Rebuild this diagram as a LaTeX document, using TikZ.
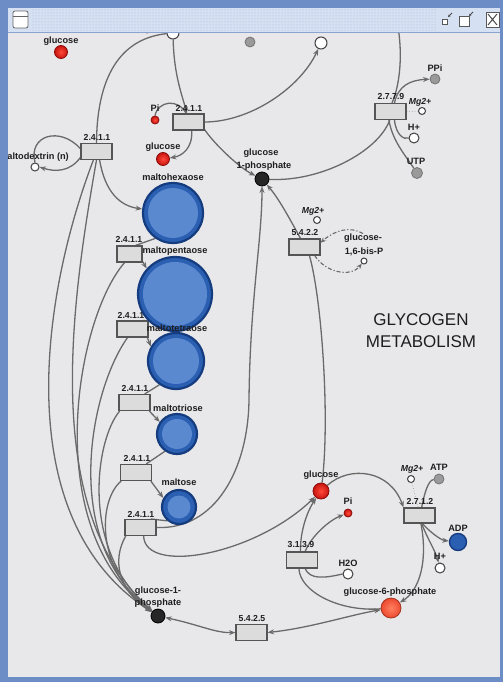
\documentclass[tikz,border=0pt]{standalone}
\usepackage{fontspec}
\setmainfont{Liberation Sans}
\usetikzlibrary{arrows.meta,patterns}
\pgfdeclarelayer{back}\pgfdeclarelayer{edges}\pgfdeclarelayer{front}
\pgfsetlayers{back,edges,main,front}
\definecolor{framec}{HTML}{6C8DC6}
\definecolor{titlec}{HTML}{D5E0F2}
\definecolor{dotc}{HTML}{9FB6DC}
\definecolor{bgc}{HTML}{E8E8EA}
\definecolor{linec}{HTML}{6A6A6A}
\definecolor{boxfill}{HTML}{DCDCDC}
\definecolor{boxdraw}{HTML}{555555}
\definecolor{redin}{HTML}{FF4A3A}
\definecolor{redout}{HTML}{C81410}
\definecolor{redline}{HTML}{8A0C08}
\definecolor{bdark}{HTML}{163C80}
\definecolor{bmid}{HTML}{2A5FB2}
\definecolor{blight}{HTML}{5A89D0}
\definecolor{graycirc}{HTML}{9A9A9A}
\definecolor{orin}{HTML}{FF8060}
\definecolor{orout}{HTML}{EC4A30}
\definecolor{txt}{HTML}{1E1E1E}
\begin{document}
\begin{tikzpicture}[x=1pt,y=-1pt,
 lbl/.style={font=\bfseries\fontsize{9.2}{10}\selectfont, text=txt, inner sep=0pt},
 elbl/.style={font=\bfseries\fontsize{8.7}{10}\selectfont, text=txt, inner sep=0pt},
 ilbl/.style={font=\bfseries\itshape\fontsize{8.7}{10}\selectfont, text=txt, inner sep=0pt},
 enz/.style={draw=boxdraw, fill=boxfill, line width=1.1pt, minimum width=31pt, minimum height=16pt, inner sep=0pt},
 redc/.style={circle, inner sep=0pt, draw=redline, line width=0.8pt, shading=radial, inner color=redin, outer color=redout},
 orc/.style={circle, inner sep=0pt, draw=orout!70!black, line width=0.8pt, shading=radial, inner color=orin, outer color=orout},
 opnc/.style={circle, inner sep=0pt, draw=black!75, fill=white, line width=1pt},
 grayc/.style={circle, inner sep=0pt, draw=black!55, fill=graycirc, line width=0.8pt},
 blkc/.style={circle, inner sep=0pt, draw=black, fill=black!85, line width=0.8pt, minimum size=14pt},
 malto/.style={circle, inner sep=0pt, draw=bdark, fill=bmid, line width=2.2pt},
 con/.style={draw=linec, line width=1.3pt},
 arr/.style={con, -{Stealth[length=6.5pt,width=5pt]}},
 arrb/.style={con, {Stealth[length=6.5pt,width=5pt]}-{Stealth[length=6.5pt,width=5pt]}},
 dasharr/.style={draw=linec, line width=1.1pt, dash pattern=on 4pt off 2pt on 1.2pt off 2pt, -{Stealth[length=5.5pt,width=4.5pt]}},
 dotl/.style={draw=black!40, line width=0.7pt, dotted}
]
\useasboundingbox (0,0) rectangle (503,682);
\begin{pgfonlayer}{back}
\fill[bgc] (0,0) rectangle (503,682);
\end{pgfonlayer}

% ---------- nodes ----------
\node[redc, minimum size=13pt] (glcTL) at (61,52) {};
\node[lbl] (glcTLl) at (61,41) {glucose};
\node[opnc, minimum size=12pt] (topO) at (173,33) {};
\node[redc, minimum size=10pt] (topR) at (147,28) {};
\node[grayc, minimum size=10pt] (udp) at (250,42) {};
\node[opnc, minimum size=12pt] (udpg) at (321,43) {};

\node[enz] (e1) at (188.5,122) {};
\node[elbl] (e1l) at (189,108) {2.4.1.1};
\node[redc, minimum size=8pt] (pi1) at (155,120) {};
\node[lbl] (pi1l) at (155,108) {Pi};
\node[redc, minimum size=13pt] (glc1) at (163,159) {};
\node[lbl] (glc1l) at (163,147) {glucose};
\node[blkc] (g1p) at (262,179) {};
\node[lbl] (g1pl1) at (261,153) {glucose};
\node[lbl] (g1pl2) at (264,166) {1-phosphate};

\node[enz] (e0) at (96.5,151.5) {};
\node[elbl] (e0l) at (97,137) {2.4.1.1};
\node[opnc, minimum size=8pt] (md) at (35,167) {};
\node[lbl] (mdl) at (34,157) {maltodextrin (n)};

\node[enz, minimum width=25pt] (e2) at (129.5,254) {};
\node[elbl] (e2l) at (129,239) {2.4.1.1};
\node[enz] (e3) at (132.5,329) {};
\node[elbl] (e3l) at (131,315) {2.4.1.1};
\node[enz] (e4) at (134.5,402.5) {};
\node[elbl] (e4l) at (135,388) {2.4.1.1};
\node[enz] (e5) at (136,472.5) {};
\node[elbl] (e5l) at (137,458) {2.4.1.1};
\node[enz] (e6) at (140.5,527.5) {};
\node[elbl] (e6l) at (141,514) {2.4.1.1};

\node[malto, minimum size=60pt] (hexa) at (173,213) {};
\fill[blight] (hexa.center) circle (25pt);
\node[lbl] (hexal) at (173,177) {maltohexaose};
\node[malto, minimum size=74pt] (penta) at (175,294) {};
\fill[blight] (penta.center) circle (32pt);
\node[lbl] (pental) at (175,251) {maltopentaose};
\node[malto, minimum size=56pt] (tetra) at (176,361) {};
\fill[blight] (tetra.center) circle (23pt);
\node[lbl] (tetral) at (177,328) {maltotetraose};
\node[malto, minimum size=40pt] (tri) at (177,434) {};
\fill[blight] (tri.center) circle (15pt);
\node[lbl] (tril) at (178,408) {maltotriose};
\node[malto, minimum size=34pt] (malt) at (179,507) {};
\fill[blight] (malt.center) circle (11.5pt);
\node[lbl] (maltl) at (179,482) {maltose};

\node[blkc] (g1pB) at (158,616) {};
\node[lbl] (g1pBl1) at (158,591) {glucose-1-};
\node[lbl] (g1pBl2) at (158,603) {phosphate};
\node[enz] (e7) at (251.5,632.5) {};
\node[elbl] (e7l) at (252,618) {5.4.2.5};

\node[enz] (e8) at (304.5,247) {};
\node[elbl] (e8l) at (305,233) {5.4.2.2};
\node[opnc, minimum size=7pt] (mg1) at (317,220) {};
\node[ilbl] (mg1l) at (313,211) {Mg2+};
\node[opnc, minimum size=6pt] (g16) at (364,261) {};
\node[lbl] (g16l1) at (363,238) {glucose-};
\node[lbl] (g16l2) at (364,252) {1,6-bis-P};

\node[enz] (e9) at (390.5,111.5) {};
\node[elbl] (e9l) at (391,97) {2.7.7.9};
\node[grayc, minimum size=10pt] (ppi) at (435,79) {};
\node[lbl] (ppil) at (435,68) {PPi};
\node[opnc, minimum size=7pt] (mg2) at (422,111) {};
\node[ilbl] (mg2l) at (420,102) {Mg2+};
\node[opnc, minimum size=10pt] (hp1) at (414,138) {};
\node[lbl] (hp1l) at (414,127) {H+};
\node[grayc, minimum size=11pt] (utp) at (417,173) {};
\node[lbl] (utpl) at (416,161) {UTP};

\node[font=\fontsize{17}{22}\selectfont, text=txt, align=center, inner sep=0pt] (ttl) at (421,331) {GLYCOGEN\\METABOLISM};

\node[redc, minimum size=16pt] (glcR) at (321,491) {};
\node[lbl] (glcRl) at (321,475) {glucose};
\node[redc, minimum size=8pt] (pi2) at (348,513) {};
\node[lbl] (pi2l) at (348,501) {Pi};
\node[enz] (e10) at (302,560) {};
\node[elbl] (e10l) at (301,545) {3.1.3.9};
\node[opnc, minimum size=10pt] (h2o) at (348,574) {};
\node[lbl] (h2ol) at (348,563) {H2O};
\node[orc, minimum size=20pt] (g6p) at (391,608) {};
\node[lbl] (g6pl) at (390,592) {glucose-6-phosphate};
\node[enz, minimum height=15pt] (e11) at (419.5,515.5) {};
\node[elbl] (e11l) at (420,501) {2.7.1.2};
\node[opnc, minimum size=7pt] (mg3) at (411,479) {};
\node[ilbl] (mg3l) at (412,469) {Mg2+};
\node[grayc, minimum size=10pt] (atp) at (439,479) {};
\node[lbl] (atpl) at (439,467) {ATP};
\node[circle, inner sep=0pt, minimum size=17pt, draw=bdark, fill=bmid, line width=1.4pt] (adp) at (458,542) {};
\node[lbl] (adpl) at (458,528) {ADP};
\node[opnc, minimum size=10pt] (hp2) at (440,568) {};
\node[lbl] (hp2l) at (440,556) {H+};

\coordinate (offtop) at (397,22);

% ---------- connectors ----------
\begin{pgfonlayer}{edges}
\draw[arr] (topO) .. controls (174,75) and (182,95) .. (e1.100);
\draw[con] (pi1.north) .. controls (158,101) and (178,98) .. (e1.105);
\draw[arr] (e1.-70) .. controls (193,148) and (182,156) .. (glc1);
\draw[arr] (e1.-25) .. controls (215,145) and (240,168) .. (g1p);
\draw[arr] (e1.east) .. controls (250,122) and (300,88) .. (udpg);
\draw[con] (topO) .. controls (125,38) and (97,70) .. (e0.north);
\draw[con] (e0.170) .. controls (60,126) and (28,135) .. (md.north);
\draw[arr] (e0.-160) .. controls (70,172) and (55,172) .. (md.east);
\draw[arr] (e0.-70) .. controls (105,192) and (120,206) .. (hexa);
\draw[con] (hexa.-125) -- (e2.55);
\draw[arr] (e2.-30) -- (penta.138);
\draw[con] (penta.225) -- (e3.40);
\draw[arr] (e3.-30) -- (tetra.150);
\draw[con] (tetra.235) -- (e4.40);
\draw[arr] (e4.-30) -- (tri.145);
\draw[con] (tri.235) -- (e5.40);
\draw[arr] (e5.-30) -- (malt.150);
\draw[con] (malt.230) -- (e6.40);
% long line to upper glucose-1-phosphate
\draw[arr] (e6.east) .. controls (215,530) and (248,470) .. (249,400) .. controls (250,300) and (262,240) .. (g1p);
\draw[arr] (e6.-70) .. controls (145,575) and (255,555) .. (glcR);
% converging lines to lower glucose-1-phosphate
\draw[arr] (e0.-110) .. controls (40,300) and (10,520) .. (g1pB);
\draw[arr] (e0.-90) .. controls (72,300) and (40,510) .. (g1pB);
\draw[arr] (e2.-120) .. controls (75,320) and (40,530) .. (g1pB);
\draw[arr] (e3.-120) .. controls (90,390) and (60,540) .. (g1pB);
\draw[arr] (e4.-150) .. controls (95,440) and (80,550) .. (g1pB);
\draw[arr] (e5.-150) .. controls (98,500) and (95,570) .. (g1pB);
\draw[arr] (e6.-150) .. controls (112,560) and (118,590) .. (g1pB);
\draw[arrb] (g1pB) .. controls (200,625) and (215,633) .. (e7.west);
\draw[arrb] (e7.east) .. controls (310,628) and (350,615) .. (g6p);
% 2.7.7.9
\draw[con] (g1p) .. controls (320,182) and (378,152) .. (e9.-95);
\draw[con] (e9.80) .. controls (402,80) and (402,45) .. (offtop);
\draw[arr] (e9.65) .. controls (398,86) and (410,80) .. (ppi);
\draw[dotl] (e9.east) -- (mg2);
\draw[con] (e9.-65) .. controls (396,135) and (404,140) .. (hp1.west);
\draw[con] (e9.-100) .. controls (392,140) and (405,155) .. (utp);
% 5.4.2.2
\draw[arr] (e8.115) .. controls (293,225) and (280,200) .. (g1p);
\draw[dasharr] (g16l1.north) .. controls (350,226) and (335,230) .. (e8.15);
\draw[dasharr] (e8.-40) .. controls (325,272) and (350,278) .. (g16);
\draw[con] (e8.-60) .. controls (322,300) and (330,420) .. (glcR);
% right lower part
\draw[arr] (glcR) .. controls (350,465) and (390,470) .. (e11.north west);
\draw[dotl] (mg3) -- (e11.100);
\draw[con] (atp) .. controls (428,480) and (424,495) .. (e11.75);
\draw[arr] (e11.-70) .. controls (428,530) and (440,540) .. (adp);
\draw[arr] (e11.-75) .. controls (428,540) and (435,550) .. (hp2);
\draw[arr] (e11.-80) .. controls (428,560) and (420,590) .. (g6p);
\draw[arr] (e10.100) .. controls (300,530) and (308,510) .. (glcR);
\draw[arr] (e10.70) .. controls (312,535) and (330,520) .. (pi2);
\draw[con] (e10.-70) .. controls (310,580) and (325,578) .. (h2o.west);
\draw[con] (e10.-110) .. controls (300,592) and (340,612) .. (g6p);
\end{pgfonlayer}

% ---------- window frame ----------
\begin{pgfonlayer}{front}
\fill[framec] (0,0) rectangle (503,8);
\fill[framec] (0,0) rectangle (8,682);
\fill[framec] (500,0) rectangle (503,682);
\fill[framec] (0,677) rectangle (503,682);
\fill[titlec] (8,8) rectangle (500,32);
\fill[pattern=dots, pattern color=dotc] (32,9) rectangle (437,31);
\draw[framec!80, line width=0.8pt] (8,32) -- (500,32);
\draw[black!60, fill=white, rounded corners=2pt, line width=0.8pt] (13,11) rectangle (28,28);
\draw[black!60, line width=0.8pt] (13,16) -- (28,16);
\draw[black!65, fill=white, line width=0.7pt] (442,19) rectangle (447,24);
\draw[black!70, line width=0.8pt, -{Stealth[length=2.5pt,width=2.5pt]}] (452,13) -- (448,17);
\draw[black!65, fill=white, line width=0.7pt] (459,16) rectangle (469,26);
\draw[black!70, line width=0.8pt, -{Stealth[length=2.5pt,width=2.5pt]}] (473,12) -- (469,16);
\draw[black!65, fill=white, line width=0.8pt] (486,12) rectangle (499,27);
\draw[black!70, line width=1pt] (488,14) -- (497,25) (497,14) -- (488,25);
\end{pgfonlayer}
\end{tikzpicture}
\end{document}
